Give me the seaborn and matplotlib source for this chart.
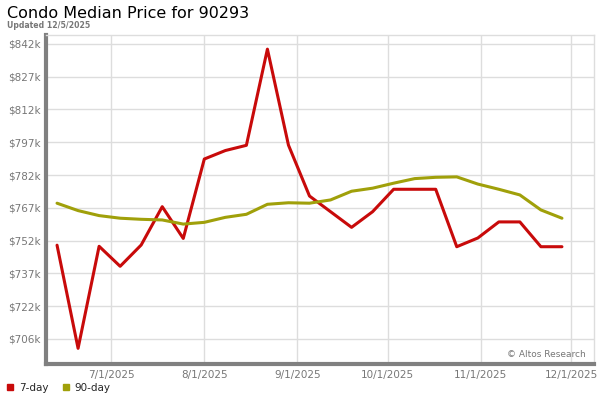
import matplotlib
matplotlib.use("Agg")
import matplotlib.pyplot as plt
import matplotlib.dates as mdates
from matplotlib.lines import Line2D
import pandas as pd
import seaborn as sns
import numpy as np

# weekly points, 6/13/2025 -> 11/28/2025
dates = pd.date_range("2025-06-13", periods=25, freq="7D")
day7 = [749.5, 702.1, 749.0, 739.8, 749.6, 767.2, 752.6, 789.1, 793.0, 795.4,
        839.6, 795.5, 772.1, 764.9, 757.7, 764.9, 775.2, 775.2, 775.2, 748.8,
        752.8, 760.2, 760.2, 748.8, 748.8]
day90 = [768.8, 765.4, 763.1, 761.9, 761.4, 761.1, 759.2, 760.0, 762.3, 763.7,
         768.3, 769.0, 768.8, 770.3, 774.3, 775.7, 778.0, 780.1, 780.7, 780.9,
         777.6, 775.2, 772.6, 765.7, 761.9]
ytick_vals = [706.4 + i * 15.07 for i in range(10)]
ytick_labels = ["$706k", "$722k", "$737k", "$752k", "$767k",
                "$782k", "$797k", "$812k", "$827k", "$842k"]
xtick_dates = pd.to_datetime(["2025-07-01", "2025-08-01", "2025-09-01",
                              "2025-10-01", "2025-11-01", "2025-12-01"])
xtick_labels = ["7/1/2025", "8/1/2025", "9/1/2025", "10/1/2025", "11/1/2025", "12/1/2025"]

red = "#c80a0a"
olive = "#a0a00a"

df = pd.DataFrame({"date": list(dates) * 2,
                   "price": day7 + day90,
                   "series": ["7-day"] * 25 + ["90-day"] * 25})

sns.set_style("white")
plt.rcParams['font.family'] = ['DejaVu Sans']

fig = plt.figure(figsize=(6, 4), dpi=100)
ax = fig.add_axes([0.0767, 0.09, 0.9133, 0.8225])

sns.lineplot(data=df, x="date", y="price", hue="series",
             palette={"7-day": red, "90-day": olive}, linewidth=2.2,
             legend=False, ax=ax)

ax.set_xlim(pd.Timestamp("2025-06-09 08:00"), pd.Timestamp("2025-12-08 16:00"))
ax.set_ylim(694.9, 846.1)
ax.set_yticks(ytick_vals)
ax.set_yticklabels(ytick_labels)
ax.set_xticks(xtick_dates)
ax.set_xticklabels(xtick_labels)
ax.tick_params(axis="both", length=0, labelsize=7.5, labelcolor="#777777", pad=4)
ax.set_xlabel("")
ax.set_ylabel("")

ax.grid(True, color="#dddddd", linewidth=1)
ax.set_axisbelow(True)
for s in ["top", "right"]:
    ax.spines[s].set_color("#dddddd")
    ax.spines[s].set_linewidth(1)
for s in ["left", "bottom"]:
    ax.spines[s].set_color("#808080")
    ax.spines[s].set_linewidth(3)

ax.text(0.985, 0.015, "© Altos Research", transform=ax.transAxes,
        ha="right", va="bottom", fontsize=6.5, color="#777777")

fig.text(0.012, 0.965, "Condo Median Price for 90293", fontsize=11.5, color="black",
         ha="left", va="center")
fig.text(0.012, 0.937, "Updated 12/5/2025", fontsize=5.6, color="#777777",
         ha="left", va="center", fontweight="bold")

handles = [Line2D([], [], marker="s", linestyle="none", color=red, markersize=5),
           Line2D([], [], marker="s", linestyle="none", color=olive, markersize=5)]
fig.legend(handles, ["7-day", "90-day"], loc="lower left", bbox_to_anchor=(-0.007, -0.005),
           ncol=2, frameon=False, fontsize=7.5, handletextpad=0.3, columnspacing=1.2,
           handlelength=1.0)

fig.savefig("out.png", dpi=100)
